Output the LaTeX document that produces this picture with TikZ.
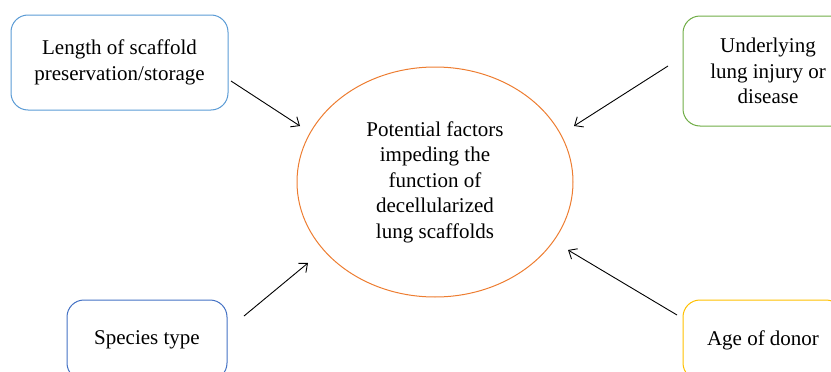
\documentclass[tikz,border=0pt]{standalone}
\usepackage{fontspec}
\setmainfont{Liberation Serif}
\usepackage{tikz}
\usetikzlibrary{shapes.geometric}
\usetikzlibrary{arrows.meta}
\definecolor{boxblue}{HTML}{5B9BD5}
\definecolor{boxgreen}{HTML}{70AD47}
\definecolor{boxdarkblue}{HTML}{4472C4}
\definecolor{boxgold}{HTML}{FFC000}
\definecolor{ellorange}{HTML}{ED7D31}

\begin{document}
\begin{tikzpicture}[x=1pt,y=-1pt,
    factor/.style={draw,line width=1pt,rounded corners=17pt,align=center,
      font=\fontsize{21}{25.5}\selectfont,inner sep=0pt},
    pointer/.style={line width=0.9pt,black,-{Straight Barb[length=7pt,width=12pt]}}]
    \clip (0,0) rectangle (831,372);
    % Centre
    \node[ellipse,draw=ellorange,line width=1pt,minimum width=276pt,minimum height=230pt,
      align=center,font=\fontsize{21}{25.5}\selectfont] (centre) at (435,182)
      {Potential factors\\impeding the\\function of\\decellularized\\lung scaffolds};
    % Boxes
    \node[factor,draw=boxblue,minimum width=217pt,minimum height=95pt] (length) at (119.5,62.5)
      {Length of scaffold\\preservation/storage};
    \node[factor,draw=boxgreen,minimum width=170pt,minimum height=110pt] (injury) at (768,71)
      {Underlying\\lung injury or\\disease};
    \node[factor,draw=boxdarkblue,minimum width=160pt,minimum height=80pt] (species) at (147,340)
      {Species type};
    \node[factor,draw=boxgold,minimum width=160pt,minimum height=80pt] (donor) at (763,340)
      {Age of donor};
    % Arrows
    \coordinate (lengthout) at (231,81);
    \coordinate (lengthin) at (300,126);
    \coordinate (injuryout) at (668,66);
    \coordinate (injuryin) at (574,126);
    \coordinate (speciesout) at (244,316);
    \coordinate (speciesin) at (308,263);
    \coordinate (donorout) at (677,315);
    \coordinate (donorin) at (568,250);
    \draw[pointer] (lengthout) -- (lengthin);
    \draw[pointer] (injuryout) -- (injuryin);
    \draw[pointer] (speciesout) -- (speciesin);
    \draw[pointer] (donorout) -- (donorin);
\end{tikzpicture}
\end{document}
